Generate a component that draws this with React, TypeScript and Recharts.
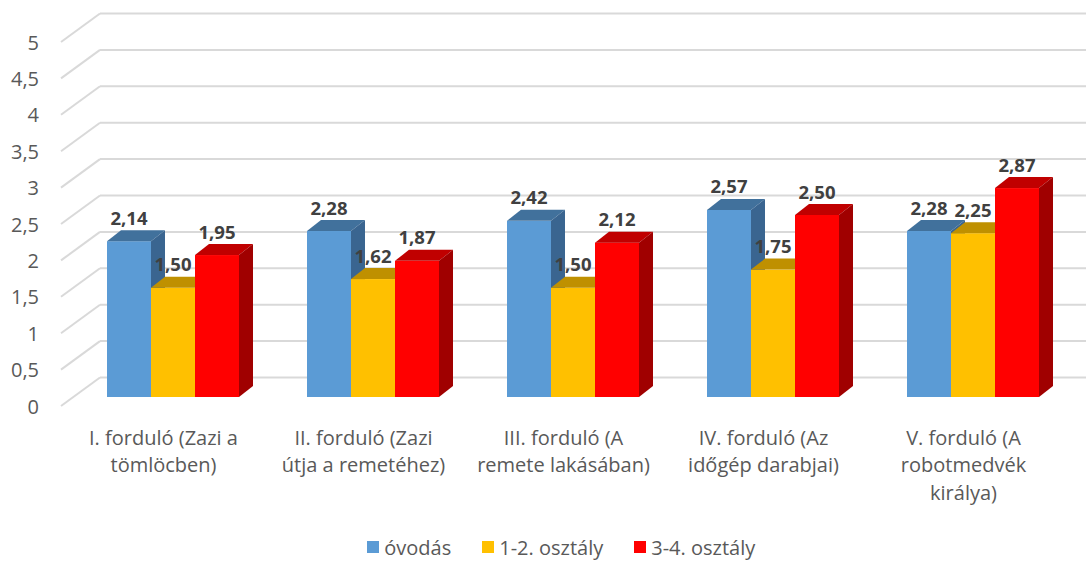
import React from 'react';
import { BarChart, Bar, XAxis, YAxis, CartesianGrid, Legend, LabelList } from 'recharts';

const categories = [
  'I. forduló (Zazi a\ntömlöcben)',
  'II. forduló (Zazi\nútja a remetéhez)',
  'III. forduló (A\nremete lakásában)',
  'IV. forduló (Az\nidőgép darabjai)',
  'V. forduló (A\nrobotmedvék\nkirálya)',
];
const ovodas = [2.14, 2.28, 2.42, 2.57, 2.28];
const osztaly12 = [1.5, 1.62, 1.5, 1.75, 2.25];
const osztaly34 = [1.95, 1.87, 2.12, 2.5, 2.87];
const yTicks = [0, 0.5, 1, 1.5, 2, 2.5, 3, 3.5, 4, 4.5, 5];
const seriesNames = ['óvodás', '1-2. osztály', '3-4. osztály'];

const data = categories.map((c, i) => ({
  name: c,
  a: ovodas[i],
  b: osztaly12[i],
  c: osztaly34[i],
}));

const FONT = '"Open Sans", Lato, sans-serif';
const DX = 14;
const DY = 11;

const shades: Record<string, { top: string; side: string }> = {
  '#5B9BD5': { top: '#41719C', side: '#3A6590' },
  '#FFC000': { top: '#BF9000', side: '#A37B00' },
  '#FF0000': { top: '#C00000', side: '#A00000' },
};

const Bar3D = (props: any) => {
  const { x, y, width, height, fill } = props;
  if (width == null || height == null) return null;
  const s = shades[fill] || { top: fill, side: fill };
  const w = width;
  const h = height;
  return (
    <g>
      <rect x={x} y={y} width={w} height={h} fill={fill} />
      <polygon
        points={`${x},${y} ${x + DX},${y - DY} ${x + w + DX},${y - DY} ${x + w},${y}`}
        fill={s.top}
      />
      <polygon
        points={`${x + w},${y} ${x + w + DX},${y - DY} ${x + w + DX},${y + h - DY} ${x + w},${y + h}`}
        fill={s.side}
      />
    </g>
  );
};

const ValueLabel = (props: any) => {
  const { x, y, width, value } = props;
  return (
    <text
      x={x + width / 2}
      y={y - 24}
      textAnchor="middle"
      dominantBaseline="central"
      fontFamily={FONT}
      fontWeight="bold"
      fontSize={18.5}
      fill="#404040"
    >
      {Number(value).toFixed(2).replace('.', ',')}
    </text>
  );
};

const GridLine = (props: any) => {
  const { x1, y1 } = props;
  const backY = y1 - 19.5;
  return (
    <g key={props.key}>
      <line x1={x1 - 12.5} y1={y1 + 9} x2={x1 + 26.5} y2={backY} stroke="#D9D9D9" strokeWidth={2} />
      <line x1={x1 + 26.5} y1={backY} x2={1090} y2={backY} stroke="#D9D9D9" strokeWidth={2} />
    </g>
  );
};

const YTick = (props: any) => {
  const { y, payload } = props;
  return (
    <text
      x={39}
      y={y + 9}
      textAnchor="end"
      dominantBaseline="central"
      fontFamily={FONT}
      fontSize={20}
      fill="#595959"
    >
      {String(payload.value).replace('.', ',')}
    </text>
  );
};

const XTick = (props: any) => {
  const { x, y, payload } = props;
  const lines = String(payload.value).split('\n');
  return (
    <text textAnchor="middle" fontFamily={FONT} fontSize={20} fill="#595959">
      {lines.map((l, i) => (
        <tspan key={i} x={x - 10} y={y + 32 + i * 27.5} dominantBaseline="central">
          {l}
        </tspan>
      ))}
    </text>
  );
};

const LegendContent = (props: any) => {
  const payload = [...(props.payload || [])].sort(
    (p: any, q: any) => seriesNames.indexOf(p.value) - seriesNames.indexOf(q.value)
  );
  return (
    <div
      style={{
        display: 'flex',
        justifyContent: 'center',
        alignItems: 'center',
        height: 34,
        fontFamily: FONT,
        fontSize: 20,
        color: '#595959',
        paddingLeft: 49,
      }}
    >
      {payload.map((p: any, i: number) => (
        <div key={i} style={{ display: 'flex', alignItems: 'center', marginRight: i < 2 ? 31 : 0 }}>
          <div style={{ width: 12, height: 12, background: p.color, marginRight: 5 }} />
          <span>{p.value}</span>
        </div>
      ))}
    </div>
  );
};

export default function App() {
  return (
    <div style={{ position: 'absolute', left: 0, top: 0, width: 1086, height: 564, background: '#fff' }}>
      <BarChart
        width={1086}
        height={564}
        data={data}
        margin={{ top: 33, right: 12.5, left: 0, bottom: 0 }}
        barCategoryGap={33.5}
        barGap={0}
      >
        <CartesianGrid vertical={false} horizontal={GridLine} />
        <XAxis dataKey="name" height={133} axisLine={false} tickLine={false} tick={XTick} interval={0} />
        <YAxis
          width={73.5}
          domain={[0, 5]}
          ticks={yTicks}
          axisLine={false}
          tickLine={false}
          tick={YTick}
          interval={0}
        />
        <Legend verticalAlign="bottom" height={34} content={LegendContent} />
        <Bar dataKey="a" name={seriesNames[0]} fill="#5B9BD5" shape={Bar3D} isAnimationActive={false}>
          <LabelList dataKey="a" content={ValueLabel} />
        </Bar>
        <Bar dataKey="b" name={seriesNames[1]} fill="#FFC000" shape={Bar3D} isAnimationActive={false}>
          <LabelList dataKey="b" content={ValueLabel} />
        </Bar>
        <Bar dataKey="c" name={seriesNames[2]} fill="#FF0000" shape={Bar3D} isAnimationActive={false}>
          <LabelList dataKey="c" content={ValueLabel} />
        </Bar>
      </BarChart>
    </div>
  );
}
